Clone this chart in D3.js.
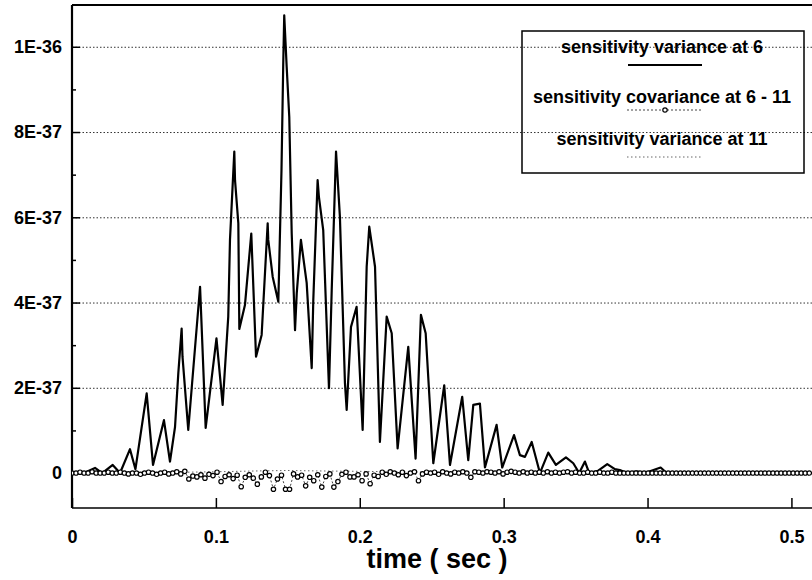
<!DOCTYPE html>
<html>
<head>
<meta charset="utf-8">
<script src="https://cdn.jsdelivr.net/npm/d3@7"></script>
<style>
  body { margin: 0; background: #fff; }
  svg { display: block; font-family: "Liberation Sans", Arial, sans-serif; }
</style>
</head>
<body>
<svg width="812" height="580"></svg>
<script>
// values are in units of 1E-37
var timeVar6 = [0, 0.0083, 0.016, 0.021, 0.0283, 0.0334, 0.0403, 0.0441, 0.0519, 0.0563,
  0.0639, 0.0681, 0.0716, 0.0739, 0.0762, 0.0768, 0.0808, 0.089, 0.0929, 0.1004,
  0.1047, 0.1086, 0.1098, 0.1128, 0.1133, 0.1156, 0.1163, 0.1202, 0.1246, 0.1279,
  0.1318, 0.136, 0.1364, 0.1395, 0.1434, 0.1456, 0.1468, 0.1475, 0.1492, 0.151,
  0.1527, 0.155, 0.1562, 0.1591, 0.1631, 0.1666, 0.1677, 0.1707, 0.1716, 0.1746,
  0.1786, 0.1805, 0.1835, 0.1844, 0.1862, 0.1897, 0.1909, 0.1939, 0.1978, 0.202,
  0.2048, 0.2066, 0.2106, 0.214, 0.2187, 0.2222, 0.2263, 0.2337, 0.2388, 0.2425,
  0.2458, 0.2511, 0.2587, 0.2627, 0.2712, 0.2754, 0.2789, 0.2835, 0.287, 0.2951,
  0.299, 0.3072, 0.3113, 0.3148, 0.3195, 0.3252, 0.331, 0.3363, 0.3433, 0.3484,
  0.3525, 0.3565, 0.3595, 0.3655, 0.372, 0.3773, 0.3808, 0.3855, 0.3924, 0.3982,
  0.4091, 0.4133, 0.515];
var var6 = [0, 0, 0.12, 0, 0.19, 0, 0.56, 0.09, 1.87, 0.19,
  1.24, 0.27, 1.08, 2.35, 3.39, 2.73, 1.01, 4.37, 1.06, 3.16,
  1.6, 3.67, 5.47, 7.54, 6.87, 5.86, 3.38, 3.94, 5.62, 2.73,
  3.24, 5.86, 5.47, 4.6, 4.02, 7.11, 9.57, 10.74, 9.53, 8.36,
  5.62, 3.35, 4.22, 5.47, 4.46, 2.46, 4.06, 6.87, 6.48, 5.7,
  1.99, 4.29, 7.54, 7.03, 6.01, 2.11, 1.48, 3.43, 3.9, 1.01,
  4.84, 5.78, 4.84, 0.73, 3.67, 3.28, 0.58, 2.96, 0.34, 3.71,
  3.28, 0.23, 2.06, 0.19, 1.79, 0.3, 1.6, 1.63, 0.13, 1.13,
  0.13, 0.89, 0.42, 0.38, 0.73, 0, 0.48, 0.19, 0.37, 0.23,
  0, 0.27, 0, 0.05, 0.21, 0.09, 0.07, 0, 0.04, 0,
  0.13, 0, 0];

// covariance, one sample every 0.0028 s
var covStep = 0.0028;
var cov611 = [0, 0, 0.02, 0, 0, 0.03, 0, 0, 0, 0.02,
  0, 0, 0.02, 0, -0.02, 0, 0, -0.03, 0, 0.02,
  0, -0.03, 0, 0.02, -0.02, 0, 0.03, -0.02, 0.04, -0.14,
  -0.07, -0.09, -0.04, -0.12, -0.03, -0.06, 0.02, -0.2, -0.08, -0.04,
  -0.13, -0.05, -0.32, -0.1, -0.04, -0.12, -0.26, -0.09, 0.02, -0.06,
  -0.38, -0.14, -0.05, -0.38, -0.38, -0.02, -0.09, -0.05, -0.3, -0.1,
  -0.18, -0.04, -0.33, -0.08, -0.02, -0.33, -0.2, -0.03, 0.02, -0.09,
  -0.09, -0.04, -0.18, -0.02, -0.25, -0.05, -0.08, 0.02, -0.03, 0.03,
  0, -0.04, 0.02, -0.06, 0, 0.03, -0.18, -0.02, 0.02, 0,
  0.02, -0.03, 0.03, 0, -0.02, 0.02, 0, 0.03, 0, -0.1,
  0.03, 0.02, 0, 0.03, 0.02, 0, 0.03, -0.02, 0.02, 0.04,
  0.02, 0, 0.03, 0, 0.02, 0, 0.02, 0, 0.03, 0,
  0.02, 0, 0.02, 0.03, 0, 0.02, 0, 0, 0.02, 0,
  0, 0.02, 0, 0, 0.02, 0, 0, 0, 0, 0,
  0, 0, 0, 0, 0, 0, 0, 0, 0, 0,
  0, 0, 0, 0, 0, 0, 0, 0, 0, 0,
  0, 0, 0, 0, 0, 0, 0, 0, 0, 0,
  0, 0, 0, 0, 0, 0, 0, 0, 0, 0,
  0, 0, 0, 0];

var timeVar11 = [0, 0.06, 0.1, 0.13, 0.15, 0.17, 0.2, 0.25, 0.3, 0.515];
var var11 = [0, 0.01, 0.03, 0.05, 0.06, 0.05, 0.04, 0.02, 0, 0];

var xTicks = [0, 0.1, 0.2, 0.3, 0.4, 0.5];
var xTickLabels = ["0", "0.1", "0.2", "0.3", "0.4", "0.5"];
var yTicks = [0, 2, 4, 6, 8, 10];
var yTickLabels = ["0", "2E-37", "4E-37", "6E-37", "8E-37", "1E-36"];
var yMinor = [1, 3, 5, 7, 9];
var legendLabels = ["sensitivity variance at 6", "sensitivity covariance at 6 - 11", "sensitivity variance at 11"];

var padL = 72, padR = 812, padT = 5, padB = 508;

var svg = d3.select("svg");

var x = d3.scaleLinear().domain([0, 0.5143]).range([padL, padR]);
var y = d3.scaleLinear().domain([-0.82, 10.98]).range([padB, padT]);

// grid lines
svg.append("g")
  .attr("transform", "translate(" + padL + ",0)")
  .call(d3.axisLeft(y).tickValues(yTicks.slice(1)).tickSize(-(padR - padL)).tickFormat(""))
  .call(g => g.select(".domain").remove())
  .selectAll("line")
  .attr("stroke", "#333")
  .attr("stroke-width", 1)
  .attr("stroke-dasharray", "1.5,2");

// minor y ticks
svg.append("g")
  .attr("transform", "translate(" + padL + ",0)")
  .call(d3.axisLeft(y).tickValues(yMinor).tickSize(-4).tickFormat(""))
  .call(g => g.select(".domain").remove())
  .selectAll("line").attr("stroke", "#000").attr("stroke-width", 1.5);

// y axis
var yAxis = svg.append("g")
  .attr("transform", "translate(" + padL + ",0)")
  .call(d3.axisLeft(y).tickValues(yTicks).tickSizeInner(-8).tickSizeOuter(0).tickPadding(10)
    .tickFormat((d, i) => yTickLabels[i]));
yAxis.select(".domain").remove();
yAxis.selectAll("line").attr("stroke", "#000").attr("stroke-width", 1.5);
yAxis.selectAll("text").attr("font-size", 18).attr("font-weight", "bold").attr("fill", "#000");

// x axis
var xAxis = svg.append("g")
  .attr("transform", "translate(0," + padB + ")")
  .call(d3.axisBottom(x).tickValues(xTicks).tickSizeInner(-10).tickSizeOuter(0).tickPadding(22)
    .tickFormat((d, i) => xTickLabels[i]));
xAxis.select(".domain").remove();
xAxis.selectAll("line").attr("stroke", "#000").attr("stroke-width", 1.5);
xAxis.selectAll("text").attr("font-size", 18).attr("font-weight", "bold").attr("fill", "#000");

// frame
svg.append("line").attr("x1", padL).attr("x2", padL).attr("y1", padT).attr("y2", padB)
  .attr("stroke", "#000").attr("stroke-width", 2.2);
svg.append("line").attr("x1", padL).attr("x2", padR).attr("y1", padB).attr("y2", padB)
  .attr("stroke", "#000").attr("stroke-width", 1.6);
svg.append("line").attr("x1", padL).attr("x2", padR).attr("y1", padT).attr("y2", padT)
  .attr("stroke", "#000").attr("stroke-width", 2);

svg.append("clipPath").attr("id", "clip")
  .append("rect").attr("x", padL).attr("y", padT).attr("width", padR - padL).attr("height", padB - padT);

var plot = svg.append("g").attr("clip-path", "url(#clip)");

var line = d3.line().x(d => x(d[0])).y(d => y(d[1]));

// variance at 6
plot.append("path")
  .datum(timeVar6.map((t, i) => [t, var6[i]]))
  .attr("d", line)
  .attr("fill", "none")
  .attr("stroke", "#000")
  .attr("stroke-width", 2.2)
  .attr("stroke-linejoin", "round");

// variance at 11
plot.append("path")
  .datum(timeVar11.map((t, i) => [t, var11[i]]))
  .attr("d", line)
  .attr("fill", "none")
  .attr("stroke", "#666")
  .attr("stroke-width", 1)
  .attr("stroke-dasharray", "1.5,2.5");

// covariance 6 - 11
var covData = cov611.map((v, i) => [i * covStep, v]);
plot.append("path")
  .datum(covData)
  .attr("d", line)
  .attr("fill", "none")
  .attr("stroke", "#444")
  .attr("stroke-width", 1)
  .attr("stroke-dasharray", "2,2");
plot.selectAll("circle.cov")
  .data(covData)
  .enter()
  .append("circle")
  .attr("class", "cov")
  .attr("cx", d => x(d[0]))
  .attr("cy", d => y(d[1]))
  .attr("r", 2.2)
  .attr("fill", "#fff")
  .attr("stroke", "#000")
  .attr("stroke-width", 1.2);

// x label
svg.append("text")
  .attr("x", 437).attr("y", 568)
  .attr("text-anchor", "middle")
  .attr("font-size", 27).attr("font-weight", "bold")
  .text("time ( sec )");

// legend
var lg = svg.append("g");
lg.append("rect")
  .attr("x", 522).attr("y", 31).attr("width", 282).attr("height", 142)
  .attr("fill", "none").attr("stroke", "#000").attr("stroke-width", 1.5);
var legendRows = [53, 103, 145];
var sampleRows = [65, 110, 157];
lg.selectAll("text.lab")
  .data(legendLabels)
  .enter()
  .append("text")
  .attr("class", "lab")
  .attr("x", 662)
  .attr("y", (d, i) => legendRows[i])
  .attr("text-anchor", "middle")
  .attr("font-size", 18).attr("font-weight", "bold")
  .text(d => d);
lg.append("line").attr("x1", 628).attr("x2", 702).attr("y1", sampleRows[0]).attr("y2", sampleRows[0])
  .attr("stroke", "#000").attr("stroke-width", 2.2);
lg.append("line").attr("x1", 627).attr("x2", 703).attr("y1", sampleRows[1]).attr("y2", sampleRows[1])
  .attr("stroke", "#444").attr("stroke-width", 1).attr("stroke-dasharray", "2,2");
lg.append("circle").attr("cx", 665).attr("cy", sampleRows[1]).attr("r", 2.2)
  .attr("fill", "#fff").attr("stroke", "#000").attr("stroke-width", 1.2);
lg.append("line").attr("x1", 627).attr("x2", 703).attr("y1", sampleRows[2]).attr("y2", sampleRows[2])
  .attr("stroke", "#666").attr("stroke-width", 1).attr("stroke-dasharray", "1.5,2.5");
</script>
</body>
</html>
